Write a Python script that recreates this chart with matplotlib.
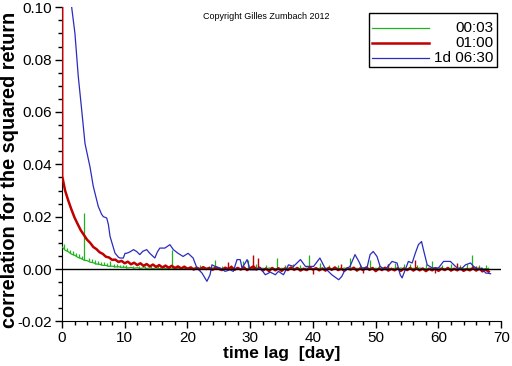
import matplotlib
matplotlib.use("Agg")
import matplotlib.pyplot as plt
from matplotlib.patches import Rectangle
import numpy as np

plt.rcParams['font.family'] = ['Liberation Sans Narrow', 'Liberation Sans', 'DejaVu Sans']

# ---- data ----
series_labels = ['00:03', '01:00', '1d 06:30']

# 00:03 series, smooth part on a half-day grid
green_lag = np.arange(0.0, 68.01, 0.5)
green_val = [
    0.0085, 0.0072, 0.0066, 0.0057, 0.0053, 0.0045, 0.0041, 0.0034, 0.0032, 0.0026,
    0.0024, 0.0019, 0.0018, 0.0014, 0.0014, 0.0010, 0.0011, 0.0008, 0.0009, 0.0006,
    0.0007, 0.0004, 0.0006, 0.0003, 0.0005, 0.0002, 0.0005, 0.0002, 0.0004, 0.0001,
    0.0004, 0.0001, 0.0004, 0.0002, 0.0003, 0.0000, 0.0004, 0.0001, 0.0003, -0.0001,
    0.0003, 0.0000, 0.0004, 0.0001, 0.0002, -0.0001, 0.0003, 0.0000, 0.0004, 0.0001,
    0.0002, -0.0001, 0.0003, 0.0001, 0.0004, 0.0000, 0.0002, -0.0001, 0.0003, 0.0000,
    0.0004, 0.0001, 0.0002, -0.0001, 0.0003, 0.0000, 0.0004, 0.0001, 0.0002, -0.0001,
    0.0003, 0.0000, 0.0004, 0.0001, 0.0002, -0.0001, 0.0003, 0.0000, 0.0004, 0.0001,
    0.0002, -0.0001, 0.0003, 0.0000, 0.0004, 0.0001, 0.0002, -0.0001, 0.0003, 0.0000,
    0.0004, 0.0001, 0.0002, -0.0001, 0.0003, 0.0000, 0.0004, 0.0001, 0.0002, -0.0001,
    0.0003, 0.0000, 0.0004, 0.0001, 0.0002, -0.0001, 0.0003, 0.0000, 0.0004, 0.0001,
    0.0002, -0.0001, 0.0003, 0.0000, 0.0004, 0.0001, 0.0002, -0.0001, 0.0003, 0.0000,
    0.0004, 0.0001, 0.0002, -0.0001, 0.0003, 0.0000, 0.0004, 0.0001, 0.0002, -0.0001,
    0.0003, 0.0000, 0.0004, 0.0001, 0.0002, -0.0001, 0.0003,
]
# 00:03 series, narrow spikes: lag, foot, tip
green_spike_lag = [
    0.25, 0.75, 1.25, 1.75, 2.25, 2.75, 3.25, 3.56, 4.25, 4.75, 5.25, 5.75, 6.25,
    6.75, 7.25, 7.6, 8.25, 8.75, 9.25, 9.75, 10.25, 11.25, 12.25, 13.25, 14.25,
    15.25, 16.25, 17.5, 18.5, 19.5, 20.5, 22.0, 23.5, 24.4, 25.5, 27.0, 28.9, 29.7,
    31.0, 32.5, 34.2, 35.5, 36.8, 38.0, 39.4, 41.1, 42.5, 44.0, 45.9, 47.5, 49.1,
    50.5, 52.0, 53.0, 54.5, 55.5, 56.5, 58.0, 59.0, 60.5, 62.0, 63.5, 64.5, 65.4,
    66.5, 67.5,
]
green_spike_foot = [
    0.0078, 0.0068, 0.0061, 0.0055, 0.0049, 0.0043, 0.0038, 0.0034, 0.0029, 0.0025,
    0.0021, 0.0019, 0.0016, 0.0014, 0.0012, 0.0010, 0.0009, 0.0008, 0.0007, 0.0007,
    0.0005, 0.0004, 0.0004, 0.0003, 0.0003, 0.0002, 0.0002, 0.0002, 0.0001, 0.0001,
    0.0001, 0.0001, 0.0001, 0.0001, 0.0001, 0.0001, 0.0001, 0.0001, 0.0001, 0.0001,
    0.0001, 0.0001, 0.0001, 0.0001, 0.0001, 0.0001, 0.0001, 0.0001, 0.0001, 0.0001,
    0.0001, 0.0001, 0.0001, 0.0001, 0.0001, 0.0001, 0.0001, 0.0001, 0.0001, 0.0001,
    0.0001, 0.0001, 0.0001, 0.0001, 0.0001, 0.0001,
]
green_spike_tip = [
    0.0095, 0.0082, 0.0074, 0.0068, 0.0062, 0.0056, 0.0050, 0.0214, 0.0042, 0.0038,
    0.0034, 0.0031, 0.0028, 0.0025, 0.0023, 0.0029, 0.0019, 0.0018, 0.0016, 0.0015,
    0.0014, 0.0013, 0.0012, 0.0011, 0.0011, 0.0010, 0.0012, 0.0074, 0.0012, 0.0010,
    0.0011, 0.0014, 0.0012, 0.0036, 0.0013, 0.0015, 0.0029, 0.0036, 0.0018, 0.0014,
    0.0042, 0.0016, 0.0020, 0.0015, 0.0055, 0.0023, 0.0016, 0.0014, 0.0042, 0.0018,
    0.0036, 0.0016, 0.0020, 0.0022, 0.0018, 0.0020, 0.0016, 0.0018, 0.0029, 0.0016,
    0.0018, 0.0016, 0.0020, 0.0055, 0.0016, 0.0014,
]

# 01:00 series: lag 0 (=1) and first lag, then a half-day grid
red_head_lag = [0.0, 0.04]
red_head_val = [1.0, 0.0355]
red_lag = np.arange(0.5, 68.01, 0.5)
red_val = [
    0.0300, 0.0262, 0.0228, 0.0197, 0.0172, 0.0148, 0.0130, 0.0112, 0.0100, 0.0084,
    0.0076, 0.0064, 0.0058, 0.0047, 0.0044, 0.0035, 0.0036, 0.0027, 0.0031, 0.0022,
    0.0028, 0.0018, 0.0024, 0.0015, 0.0022, 0.0012, 0.0019, 0.0010, 0.0017, 0.0008,
    0.0015, 0.0006, 0.0013, 0.0005, 0.0012, 0.0004, 0.0010, 0.0002, 0.0009, 0.0001,
    0.0006, -0.0002, 0.0005, -0.0001, 0.0007, 0.0000, 0.0004, -0.0003, 0.0006, 0.0001,
    -0.0004, 0.0005, 0.0000, 0.0008, -0.0003, 0.0004, -0.0002, 0.0006, -0.0004, 0.0003,
    0.0010, -0.0002, 0.0005, -0.0006, 0.0002, -0.0008, 0.0004, -0.0005, 0.0003, -0.0007,
    0.0002, -0.0004, 0.0006, -0.0003, 0.0004, -0.0006, 0.0001, -0.0004, 0.0005, -0.0002,
    0.0003, -0.0005, 0.0002, -0.0006, 0.0004, -0.0003, 0.0006, -0.0004, 0.0001, -0.0007,
    0.0003, -0.0002, 0.0005, -0.0006, 0.0002, -0.0004, 0.0006, -0.0003, 0.0004, -0.0008,
    0.0002, -0.0004, 0.0005, -0.0006, 0.0001, -0.0005, 0.0003, -0.0007, 0.0002, -0.0004,
    0.0004, -0.0006, 0.0003, -0.0005, 0.0002, -0.0008, 0.0001, -0.0005, 0.0003, -0.0007,
    0.0002, -0.0004, 0.0004, -0.0006, 0.0001, -0.0005, 0.0003, -0.0007, 0.0000, -0.0005,
    0.0004, -0.0006, 0.0002, -0.0009, -0.0002, -0.0010,
]
red_spike_lag = [26.5, 30.5, 31.3, 40.0, 44.5, 48.0, 52.0, 56.3, 59.5, 62.9, 66.0]
red_spike_tip = [0.0025, 0.0055, 0.0042, -0.0018, 0.0020, -0.0016, 0.0018, 0.0036, -0.0015, 0.0023, 0.0012]

# 1d 06:30 series
blue_lag = [
    1.3, 1.55, 2.07, 2.6, 3.14, 3.67, 4.2, 4.47, 4.99, 5.79, 6.3, 6.59, 7.13, 7.4,
    7.66, 8.45, 9.0, 9.25, 9.78, 10.05, 10.3, 10.8, 11.4, 11.9, 12.4, 12.9, 13.5,
    14.0, 14.8, 15.2, 15.6, 16.4, 17.2, 17.75, 18.5, 19.3, 20.1, 20.9, 21.5, 22.3,
    23.1, 23.6, 23.9, 24.4, 25.2, 26.0, 26.8, 27.3, 27.9, 28.4, 28.7, 29.2, 29.5,
    30.0, 30.8, 31.6, 32.4, 33.2, 34.0, 34.5, 35.3, 36.1, 36.9, 38.0, 38.8, 40.1,
    41.1, 41.9, 43.0, 44.1, 44.6, 45.1, 45.9, 46.7, 47.3, 47.8, 48.6, 49.1, 49.6,
    50.2, 50.7, 51.5, 52.6, 53.4, 53.9, 54.2, 54.7, 55.2, 55.8, 56.3, 56.8, 57.3,
    57.6, 58.2, 59.0, 60.0, 60.8, 61.9, 62.7, 63.5, 64.3, 65.1, 65.6, 66.4, 66.9,
    67.5, 68.3,
]
blue_val = [
    0.113, 0.100, 0.090, 0.0736, 0.0609, 0.048, 0.042, 0.039, 0.0316, 0.0239, 0.021,
    0.020, 0.0195, 0.017, 0.0125, 0.0061, 0.0045, 0.0042, 0.0042, 0.006, 0.006,
    0.0065, 0.0074, 0.0067, 0.0055, 0.0068, 0.0074, 0.006, 0.0042, 0.0065, 0.008,
    0.008, 0.0093, 0.0074, 0.006, 0.0048, 0.006, 0.0042, 0.0004, -0.0015, -0.0047,
    -0.0022, 0.0016, 0.001, 0.0004, -0.0009, -0.0003, -0.0009, 0.0036, 0.0036,
    0.0004, 0.0023, 0.0036, -0.0003, -0.0003, 0.0004, -0.0022, -0.0012, -0.0022,
    -0.0009, -0.0022, 0.0016, 0.001, 0.0036, 0.001, 0.001, 0.0042, 0.0004, -0.0022,
    -0.0041, -0.0028, -0.0003, 0.001, 0.0055, 0.0029, 0.0004, 0.0004, 0.0055, 0.0067,
    0.0048, 0.001, -0.0003, 0.0029, 0.0023, -0.0022, -0.0034, -0.0003, 0.0029,
    0.0023, 0.006, 0.0093, 0.0105, 0.0074, 0.0016, 0.0004, 0.0004, 0.0029, 0.0029,
    0.001, -0.0003, 0.0016, 0.0023, 0.001, -0.0003, 0.0004, -0.0015, -0.0018,
]

colors = ['#1fb41f', '#c00000', '#2b2bbf']
widths = [0.9, 1.8, 0.9]

fig = plt.figure(figsize=(5.12, 3.66), dpi=100)
ax = fig.add_axes([0.121, 0.122, 0.858, 0.858])

ax.plot(green_lag, green_val, color=colors[0], lw=widths[0], zorder=3)
ax.vlines(green_spike_lag, green_spike_foot, green_spike_tip, color=colors[0], lw=0.9, zorder=3)
ax.plot(list(red_head_lag) + list(red_lag), list(red_head_val) + list(red_val),
        color=colors[1], lw=widths[1], zorder=4)
ax.vlines(red_spike_lag, 0, red_spike_tip, color=colors[1], lw=1.0, zorder=4)
ax.plot(blue_lag, blue_val, color=colors[2], lw=widths[2], zorder=5)
ax.axhline(0, color='black', lw=1.0, zorder=6)

ax.set_xlim(0, 70)
ax.set_ylim(-0.02, 0.10)
ax.set_xticks(np.arange(0, 71, 10))
ax.set_xticks(np.arange(0, 71, 2), minor=True)
yt = np.arange(-0.02, 0.101, 0.02)
ax.set_yticks(yt)
ax.set_yticks(np.arange(-0.02, 0.101, 0.005), minor=True)
ax.set_yticklabels([f'{v:.2f}' for v in yt])
ax.tick_params(which='major', direction='out', length=5, width=1, labelsize=11, pad=2)
ax.tick_params(which='minor', direction='out', length=3, width=1)
for s in ['top', 'right']:
    ax.spines[s].set_visible(False)
for s in ['left', 'bottom']:
    ax.spines[s].set_zorder(2)

lab_font = ['Liberation Sans', 'DejaVu Sans']
ax.set_xlabel('time lag  [day]', family=lab_font, fontweight='bold', fontsize=12.5, labelpad=1)
ax.set_ylabel('correlation for the squared return', family=lab_font,
              fontweight='bold', fontsize=14.3)
ax.yaxis.set_label_coords(-0.097, 0.482)

fig.text(0.52, 0.956, 'Copyright Gilles Zumbach 2012', family=lab_font,
         fontsize=6.5, ha='center', va='center')

# legend box with right-aligned labels
ax.add_patch(Rectangle((0.699, 0.810), 0.292, 0.172, transform=ax.transAxes,
                       facecolor='white', edgecolor='black', lw=1.0, zorder=10))
row_y = [0.934, 0.886, 0.838]
for lbl, c, w, y in zip(series_labels, colors, widths, row_y):
    ax.plot([0.706, 0.836], [y, y], transform=ax.transAxes, color=c, lw=w, zorder=11)
    ax.text(0.982, y, lbl, transform=ax.transAxes, ha='right', va='center',
            fontsize=11, zorder=11)

fig.savefig('out.png', dpi=100)
